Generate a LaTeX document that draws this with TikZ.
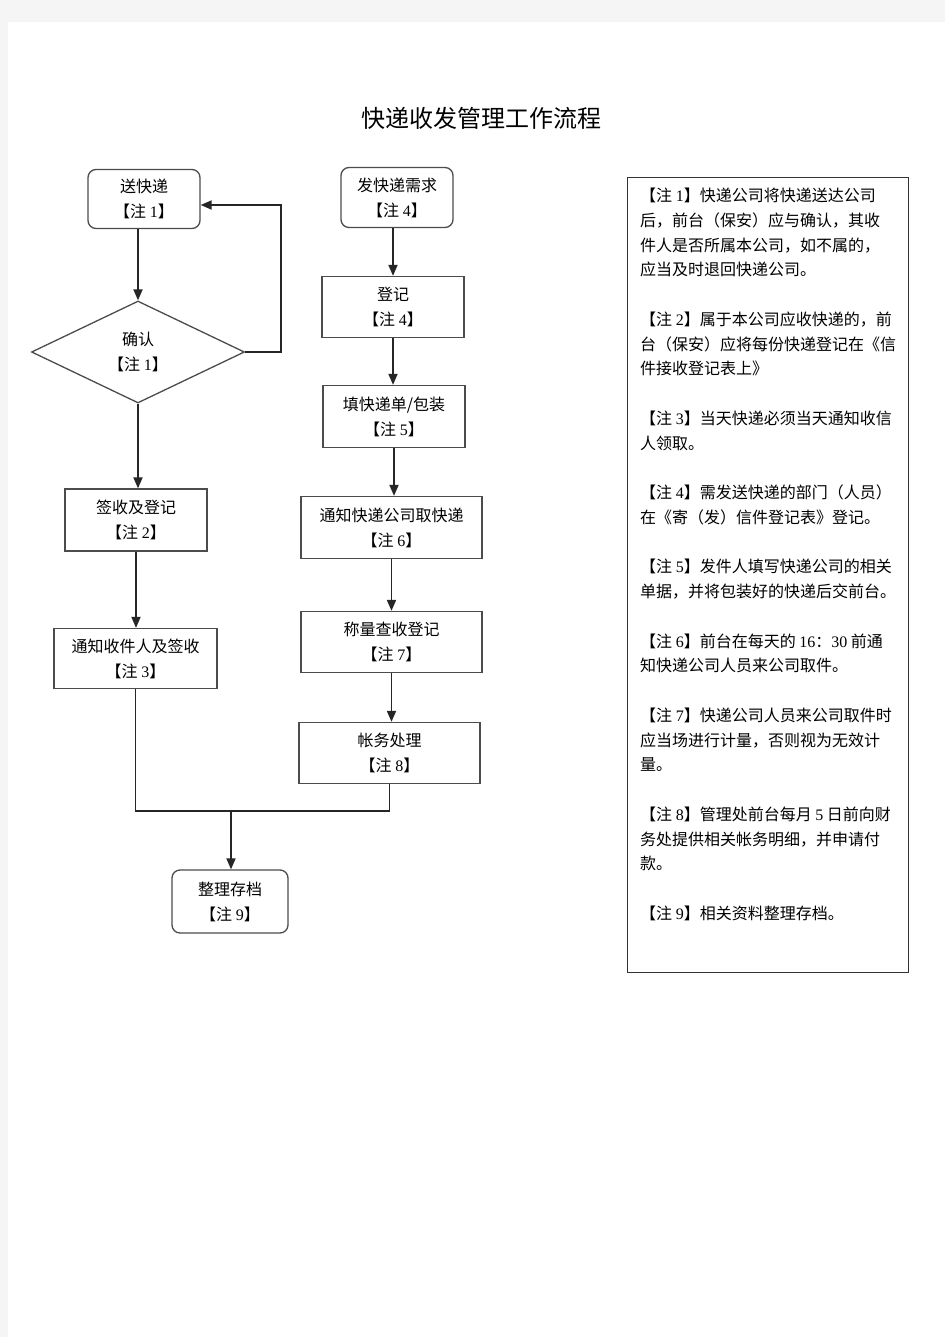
\documentclass[tikz,border=0pt]{standalone}
\usepackage{fontspec}
\setmainfont{Noto Sans CJK SC}
\newfontfamily\numfont{Liberation Serif}
\usetikzlibrary{shapes.geometric,arrows.meta}

\newcommand\zhu[1]{【注 {\numfont #1}】}

\tikzset{
  box/.style={draw=black!70, line width=1.3pt, inner sep=0pt, align=center,
    font=\fontsize{16}{25}\selectfont},
  rbox/.style={box, rounded corners=8pt},
  decide/.style={box, diamond, aspect=2},
  arr/.style={draw=black!85, line width=1.8pt, -{Triangle[length=11pt,width=9pt]}},
  link/.style={draw=black!85, line width=1.8pt},
  notetext/.style={inner sep=0pt, align=left, font=\fontsize{16}{24.75}\selectfont}
}

\begin{document}
\begin{tikzpicture}[x=1pt, y=-1pt]
\useasboundingbox (0,0) rectangle (945,1337);
\fill[black!4] (0,0) rectangle (945,1337);
\fill[white] (8,22) rectangle (945,1337);

\node[font=\fontsize{24}{28}\selectfont] (title) at (481,118) {快递收发管理工作流程};

% receiving side
\node[rbox, minimum width=112pt, minimum height=59pt] (song) at (144,199) {送快递\\\zhu{1}};
\node[decide, minimum width=213pt, minimum height=102pt] (confirm) at (138,352) {确认\\\zhu{1}};
\node[box, minimum width=142pt, minimum height=62pt] (sign) at (136,520) {签收及登记\\\zhu{2}};
\node[box, minimum width=163pt, minimum height=60pt] (notify) at (135.5,658.5) {通知收件人及签收\\\zhu{3}};
\node[rbox, minimum width=116pt, minimum height=63pt] (archive) at (230,901.5) {整理存档\\\zhu{9}};

% sending side
\node[rbox, minimum width=112pt, minimum height=60pt] (send) at (397,197.5) {发快递需求\\\zhu{4}};
\node[box, minimum width=142pt, minimum height=61pt] (reg) at (393,307) {登记\\\zhu{4}};
\node[box, minimum width=142pt, minimum height=62pt] (fill) at (394,416.5) {填快递单/包装\\\zhu{5}};
\node[box, minimum width=181pt, minimum height=62pt] (call) at (391.5,527.5) {通知快递公司取快递\\\zhu{6}};
\node[box, minimum width=181pt, minimum height=61pt] (weigh) at (391.5,642) {称量查收登记\\\zhu{7}};
\node[box, minimum width=181pt, minimum height=61pt] (account) at (389.5,753) {帐务处理\\\zhu{8}};

\coordinate (back) at (281,205);
\coordinate (join) at (231,811);

\draw[arr] (confirm.north |- song.south) -- (confirm.north);
\draw[arr] (confirm.east) -| (back) -- (song.east |- back);
\draw[arr] (confirm.south) -- (confirm.south |- sign.north);
\draw[arr] (sign.south) -- (sign.south |- notify.north);
\draw[link] (notify.south) |- (join) -| (account.south);
\draw[arr] (join) -- (join |- archive.north);

\draw[arr] (reg.north |- send.south) -- (reg.north);
\draw[arr] (reg.south) -- (reg.south |- fill.north);
\draw[arr] (fill.south) -- (fill.south |- call.north);
\draw[arr] (call.south) -- (call.south |- weigh.north);
\draw[arr] (weigh.south) -- (weigh.south |- account.north);

% notes
\node[draw=black!80, line width=1.3pt, minimum width=281pt, minimum height=795pt,
  anchor=north west] (notebox) at (627,177) {};
\node[notetext, anchor=north west] (notes) at ([xshift=13pt,yshift=-11pt]notebox.north west) {%
\zhu{1}快递公司将快递送达公司\\
后，前台（保安）应与确认，其收\\
件人是否所属本公司，如不属的，\\
应当及时退回快递公司。\\[24.75pt]
\zhu{2}属于本公司应收快递的，前\\
台（保安）应将每份快递登记在《信\\
件接收登记表上》\\[24.75pt]
\zhu{3}当天快递必须当天通知收信\\
人领取。\\[24.75pt]
\zhu{4}需发送快递的部门（人员）\\
在《寄（发）信件登记表》登记。\\[24.75pt]
\zhu{5}发件人填写快递公司的相关\\
单据，并将包装好的快递后交前台。\\[24.75pt]
\zhu{6}前台在每天的 {\numfont 16}：{\numfont 30} 前通\\
知快递公司人员来公司取件。\\[24.75pt]
\zhu{7}快递公司人员来公司取件时\\
应当场进行计量，否则视为无效计\\
量。\\[24.75pt]
\zhu{8}管理处前台每月 {\numfont 5} 日前向财\\
务处提供相关帐务明细，并申请付\\
款。\\[24.75pt]
\zhu{9}相关资料整理存档。};
\end{tikzpicture}
\end{document}
